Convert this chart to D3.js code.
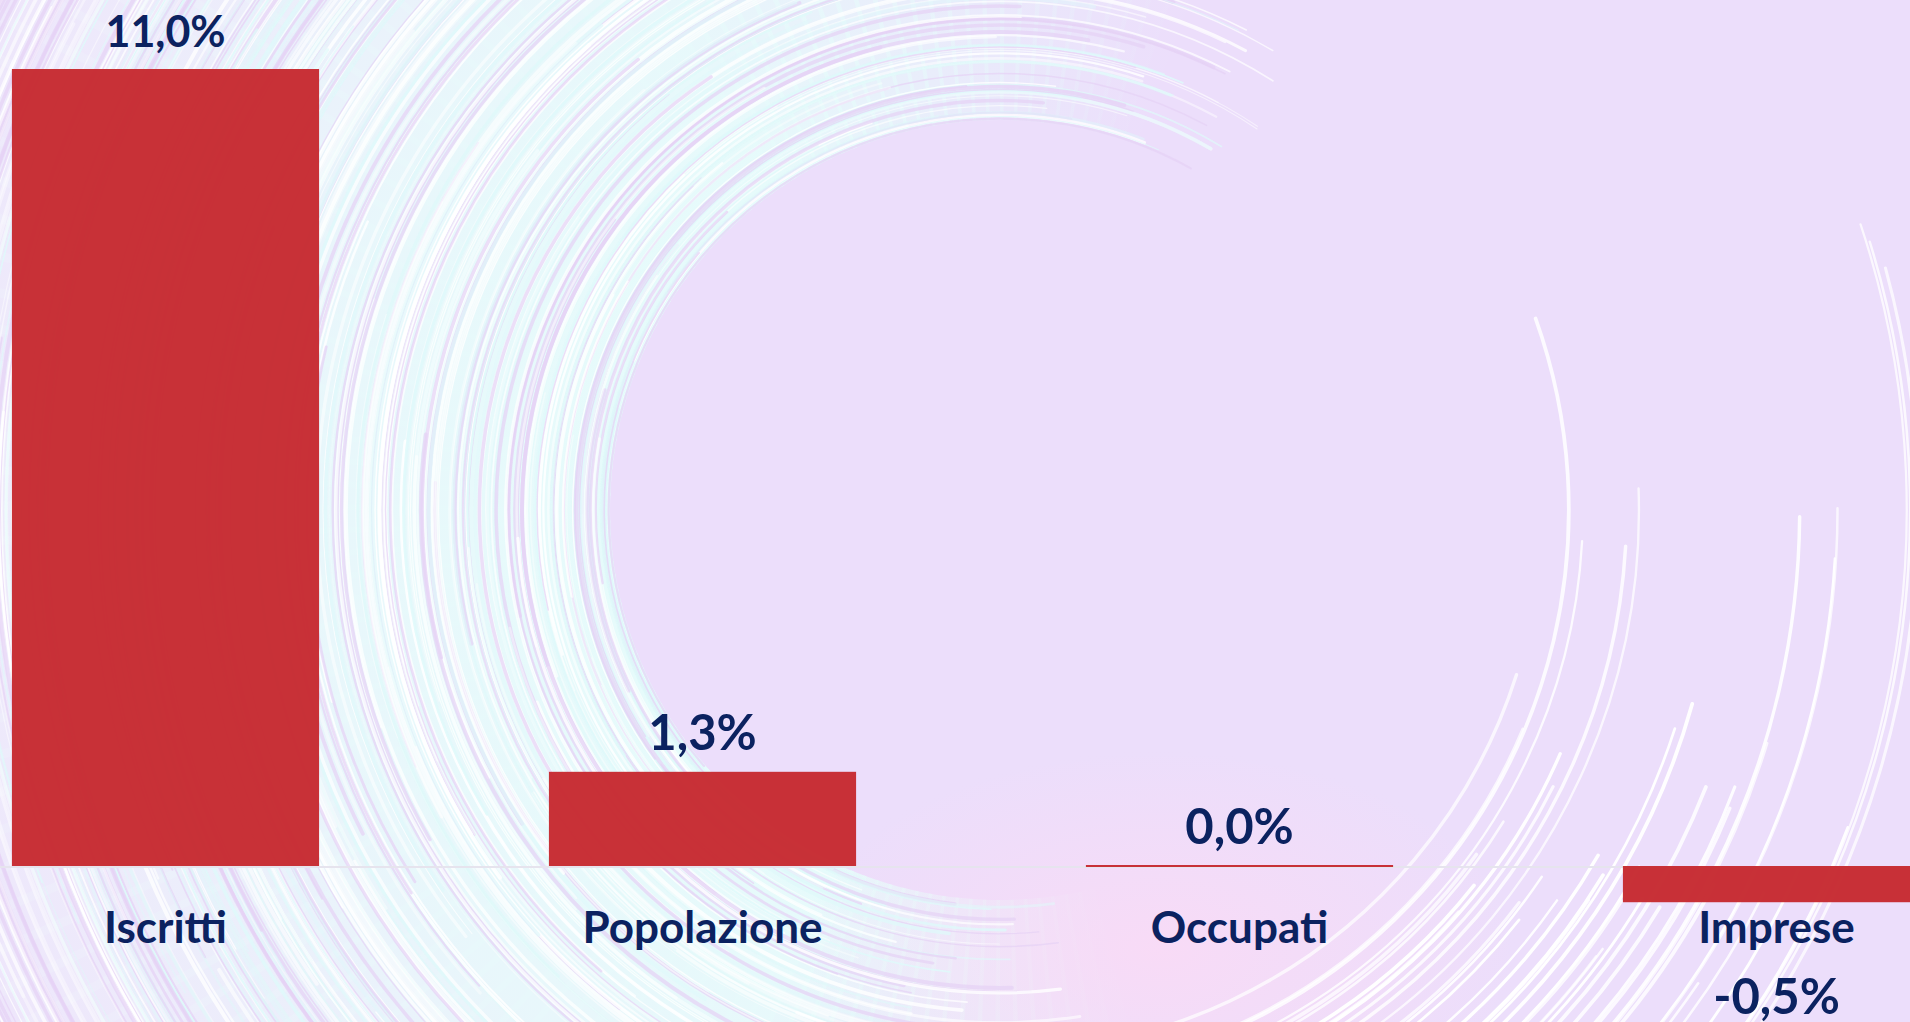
<!DOCTYPE html>
<html>
<head>
<meta charset="utf-8">
<script src="https://cdn.jsdelivr.net/npm/d3@7"></script>
<style>
  html, body { margin: 0; padding: 0; overflow: hidden; background: #ecdefb; }
  svg { display: block; }
  text { font-family: Lato, "Noto Sans", sans-serif; font-weight: 700; fill: #0b2260; }
</style>
</head>
<body>
<svg id="chart" width="1910" height="1022"></svg>
<script>
// data
var categories = ["Iscritti", "Popolazione", "Occupati", "Imprese"];
var values = [11.0, 1.3, 0.0, -0.5];
var valueLabels = ["11,0%", "1,3%", "0,0%", "-0,5%"];

var W = 1910, H = 1022;
var svg = d3.select("#chart");
var defs = svg.append("defs");

// ---- background: lavender with concentric light streaks ----
var cx = 1000, cy = 510;
var toRad = Math.PI / 180;

// deterministic hash for the decorative streaks (not data)
function h(i, k) {
    var s = Math.sin(i * 127.1 + k * 311.7) * 43758.5453;
    return s - Math.floor(s);
}

svg.append("rect").attr("width", W).attr("height", H).attr("fill", "#ecdefb");

// gradient lives in the translated coordinate system of the sectors
var wash = defs.append("radialGradient")
    .attr("id", "wash")
    .attr("gradientUnits", "userSpaceOnUse")
    .attr("cx", 0).attr("cy", 0).attr("r", 1250);
[[0.30, "#e6fbfb", 0], [0.31, "#e6fbfb", 1], [0.55, "#e8f8fb", 0.95],
 [0.8, "#eeeefb", 0.75], [1, "#efe6fb", 0.5]].forEach(s => {
    wash.append("stop").attr("offset", s[0]).attr("stop-color", s[1]).attr("stop-opacity", s[2]);
});

var glow = defs.append("radialGradient").attr("id", "glow");
glow.append("stop").attr("offset", 0).attr("stop-color", "#fbdaf5").attr("stop-opacity", 0.8);
glow.append("stop").attr("offset", 1).attr("stop-color", "#fbdaf5").attr("stop-opacity", 0);

var bg = svg.append("g").attr("class", "background");

// wash sectors, faded by angle (screen degrees: 0 right, 90 bottom, 180 left, 270 top)
function washWeight(deg) {
    if (deg < 75) return 0;
    if (deg < 115) return (deg - 75) / 40;
    if (deg < 235) return 1;
    if (deg < 290) return 1 - (deg - 235) / 55;
    return 0;
}
var sectorArc = d3.arc().innerRadius(390).outerRadius(1300);
for (var deg = 74; deg < 292; deg += 2) {
    var w = washWeight(deg + 1);
    if (w <= 0) continue;
    // d3.arc angles start at 12 o'clock -> screen deg + 90
    bg.append("path")
        .attr("transform", "translate(" + cx + "," + cy + ")")
        .attr("d", sectorArc({ startAngle: (deg + 90) * toRad, endAngle: (deg + 92.5) * toRad }))
        .attr("fill", "url(#wash)")
        .attr("opacity", w);
}

bg.append("ellipse")
    .attr("cx", 1160).attr("cy", 950).attr("rx", 360).attr("ry", 200)
    .attr("fill", "url(#glow)");

function streak(r, a0, a1) {
    var p = d3.path();
    p.moveTo(cx + r * Math.cos(a0 * toRad), cy + r * Math.sin(a0 * toRad));
    p.arc(cx, cy, r, a0 * toRad, a1 * toRad);
    return p.toString();
}

// left / top streaks
var streakColors = ["#ffffff", "#ffffff", "#dff9fa", "#e6d2f5"];
for (var i = 0; i < 420; i++) {
    var r = 390 + Math.pow(h(i, 1), 1.2) * 860;
    var a0 = 80 + h(i, 2) * 90;
    var maxEnd = r < 540 ? 305 : 272;
    var a1 = Math.min(a0 + 40 + h(i, 3) * 200, maxEnd - h(i, 7) * 25);
    if (a1 <= a0) continue;
    var c = streakColors[Math.floor(h(i, 6) * 4)];
    bg.append("path")
        .attr("d", streak(r, a0, a1))
        .attr("fill", "none")
        .attr("stroke", c)
        .attr("stroke-opacity", c === "#e6d2f5" ? 0.7 : 0.35 + 0.5 * h(i, 4))
        .attr("stroke-width", 1 + 3 * h(i, 5))
        .attr("stroke-linecap", "round");
}

// bottom-right streaks
for (var j = 0; j < 42; j++) {
    var k = j + 500;
    var rr = 540 + h(k, 1) * 380;
    var q = h(k, 2);
    var b0 = q < 0.08 ? -20 + h(k, 3) * 5 : (q < 0.25 ? -4 + h(k, 3) * 9 : 12 + h(k, 3) * 30);
    bg.append("path")
        .attr("d", streak(rr, b0, 112))
        .attr("fill", "none")
        .attr("stroke", "#ffffff")
        .attr("stroke-opacity", 0.7 + 0.3 * h(k, 4))
        .attr("stroke-width", 2.2 + 1.6 * h(k, 5))
        .attr("stroke-linecap", "round");
}

// ---- chart ----
var x = d3.scaleBand()
    .domain(categories)
    .range([-103, 2045])
    .paddingInner(0.428)
    .paddingOuter(0.214);

var y = d3.scaleLinear()
    .domain([0, 11])
    .range([866, 69]);

// zero line
svg.append("line")
    .attr("x1", 0).attr("x2", W)
    .attr("y1", y(0) + 1).attr("y2", y(0) + 1)
    .attr("stroke", "#e6e4ee")
    .attr("stroke-width", 2);

var barsG = svg.append("g").attr("class", "bars");

barsG.selectAll("rect")
    .data(values)
    .enter()
    .append("rect")
    .attr("x", (d, i) => x(categories[i]))
    .attr("width", x.bandwidth())
    .attr("y", d => d === 0 ? y(0) - 1 : Math.min(y(d), y(0)))
    .attr("height", d => Math.max(2, Math.abs(y(d) - y(0))))
    .attr("fill", "#c62a31")
    .attr("fill-opacity", 0.97);

// value labels
barsG.selectAll("text.value")
    .data(values)
    .enter()
    .append("text")
    .attr("class", "value")
    .attr("x", (d, i) => x(categories[i]) + x.bandwidth() / 2)
    .attr("y", d => d >= 0 ? y(d) - 22 : y(d) + 112)
    .attr("text-anchor", "middle")
    .style("font-size", (d, i) => i === 0 ? "43px" : "49px")
    .text((d, i) => valueLabels[i]);

// category labels
svg.append("g")
    .selectAll("text")
    .data(categories)
    .enter()
    .append("text")
    .attr("x", d => x(d) + x.bandwidth() / 2)
    .attr("y", y(0) + 77)
    .attr("text-anchor", "middle")
    .style("font-size", "44px")
    .text(d => d);
</script>
</body>
</html>
